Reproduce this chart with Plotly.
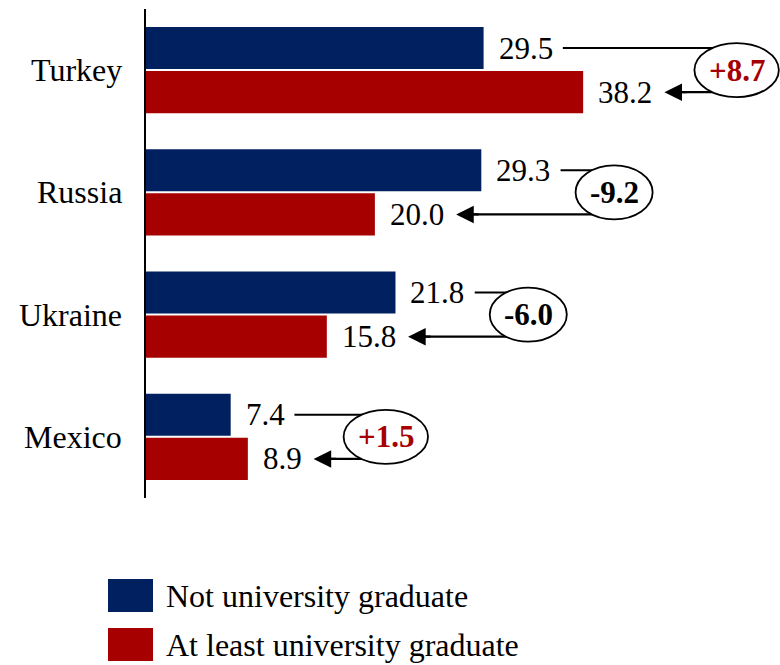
import plotly.graph_objects as go

# Share of respondents, by education level
countries = ["Turkey", "Russia", "Ukraine", "Mexico"]
not_graduate = [29.5, 29.3, 21.8, 7.4]
graduate = [38.2, 20.0, 15.8, 8.9]
gap_labels = [8.7, -9.2, -6.0, 1.5]   # reported change, graduate vs not graduate

series_names = ["Not university graduate", "At least university graduate"]
BLUE = "#002060"
RED = "#A60000"
FONT = "Liberation Serif"
FS = 31          # value labels and bubbles
FS_NAME = 32     # category names and legend

# Canvas geometry (pixels)
W, H = 780, 665
ML, MR, MT, MB = 146, 0, 9, 167
PW, PH = W - ML - MR, H - MT - MB
XMAX = 55.4
K = PW / XMAX            # pixels per data unit


def u(p):
    """pixels -> x data units"""
    return p / K


def text_w(s, bold=False):
    widths = {".": 0.25, "+": 0.57, "-": 0.333}
    return sum(widths.get(c, 0.5) for c in s) * FS


def paper_x(p):
    return (p - ML) / PW


def paper_y(p):
    return (H - MB - p) / PH


pos = list(range(len(countries)))
B_OFF, B_W = -0.352, 0.342
R_OFF, R_W = 0.008, 0.345
b_center = [i + B_OFF + B_W / 2 for i in pos]
r_center = [i + R_OFF + R_W / 2 for i in pos]

fig = go.Figure()
fig.add_trace(go.Bar(y=pos, x=not_graduate, orientation="h", name=series_names[0],
                     marker=dict(color=BLUE, line=dict(width=0)),
                     offset=B_OFF, width=B_W, showlegend=False, hoverinfo="x"))
fig.add_trace(go.Bar(y=pos, x=graduate, orientation="h", name=series_names[1],
                     marker=dict(color=RED, line=dict(width=0)),
                     offset=R_OFF, width=R_W, showlegend=False, hoverinfo="x"))

annotations = []
shapes = []
LABEL_PAD = 13

for i, (c, a, b, g) in enumerate(zip(countries, not_graduate, graduate, gap_labels)):
    # category name
    annotations.append(dict(x=paper_x(ML - 22), y=i, xref="paper", yref="y",
                            text=c, showarrow=False, xanchor="right", yanchor="middle",
                            font=dict(family=FONT, size=FS_NAME, color="black")))
    # value labels
    ta, tb = f"{a:.1f}", f"{b:.1f}"
    for v, t, yc in ((a, ta, b_center[i]), (b, tb, r_center[i])):
        annotations.append(dict(x=v, y=yc, xref="x", yref="y", text=t, showarrow=False,
                                xanchor="left", yanchor="middle", xshift=LABEL_PAD,
                                font=dict(family=FONT, size=FS, color="black")))
    # connector from upper label, round the bubble, arrow to lower label
    start = a + u(LABEL_PAD + text_w(ta) + 12)
    tip = b + u(LABEL_PAD + text_w(tb) + 14)
    gtxt = f"{g:+.1f}"
    bw = text_w(gtxt, bold=True) + 28
    cx = max(start + u(15 + bw / 2), tip + u(30 + bw / 2))
    shapes.append(dict(type="path", xref="x", yref="y",
                       path=f"M {start},{b_center[i]} H {cx} V {r_center[i]} H {tip + u(10)}",
                       line=dict(color="black", width=2.2)))
    shapes.append(dict(type="circle", xref="x", yref="y", xsizemode="pixel", ysizemode="pixel",
                       xanchor=cx, yanchor=(b_center[i] + r_center[i]) / 2,
                       x0=-bw / 2, x1=bw / 2, y0=-27, y1=27,
                       fillcolor="white", line=dict(color="black", width=1.8)))
    annotations.append(dict(x=tip, y=r_center[i], xref="x", yref="y", text="",
                            showarrow=True, ax=24, ay=0, arrowhead=2, arrowsize=1.6,
                            arrowwidth=2.2, arrowcolor="black", standoff=0))
    annotations.append(dict(x=cx, y=(b_center[i] + r_center[i]) / 2, xref="x", yref="y",
                            text=f"<b>{gtxt}</b>", showarrow=False,
                            xanchor="center", yanchor="middle",
                            font=dict(family=FONT, size=FS, color=RED if g > 0 else "black")))

# legend drawn as swatches + text
for name, col, (top, bot) in zip(series_names, [BLUE, RED], [(579, 612), (628, 661)]):
    shapes.append(dict(type="rect", xref="paper", yref="paper",
                       x0=paper_x(108), x1=paper_x(153), y0=paper_y(bot), y1=paper_y(top),
                       fillcolor=col, line=dict(width=0)))
    annotations.append(dict(x=paper_x(164), y=paper_y((top + bot) / 2), xref="paper", yref="paper",
                            text=name, showarrow=False, xanchor="left", yanchor="middle",
                            font=dict(family=FONT, size=FS_NAME, color="black")))

fig.update_layout(
    width=W, height=H,
    margin=dict(l=ML, r=MR, t=MT, b=MB, pad=0),
    paper_bgcolor="white", plot_bgcolor="white",
    barmode="overlay",
    xaxis=dict(range=[0, XMAX], visible=False, fixedrange=True),
    yaxis=dict(range=[3.5, -0.5], showticklabels=False, ticks="", showgrid=False,
               zeroline=False, showline=True, linecolor="black", linewidth=2, fixedrange=True),
    shapes=shapes,
    annotations=annotations,
    font=dict(family=FONT, size=FS),
)

fig.write_html("out.html")
